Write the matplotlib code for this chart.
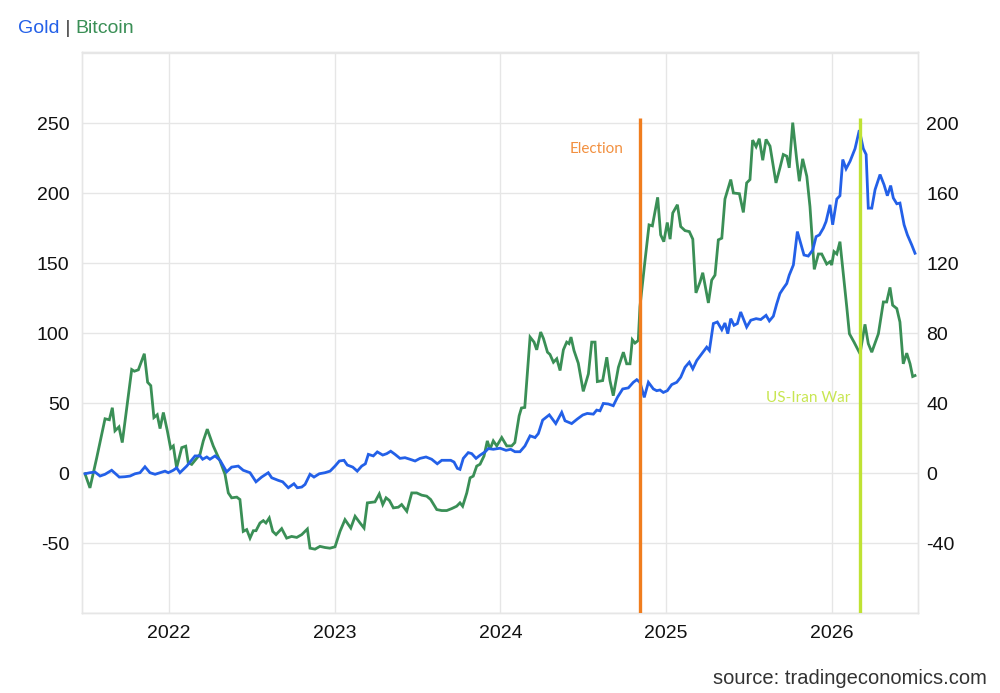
import matplotlib
matplotlib.use("agg")
import matplotlib.pyplot as plt

# weekly-ish points, x in decimal years
btc_t = [2021.493, 2021.523, 2021.564, 2021.614, 2021.640, 2021.658, 2021.674, 2021.698, 2021.718, 2021.775,
         2021.791, 2021.815, 2021.851, 2021.871, 2021.890, 2021.909, 2021.929, 2021.946, 2021.966, 2021.990,
         2022.010, 2022.026, 2022.046, 2022.077, 2022.101, 2022.116, 2022.137, 2022.157, 2022.187, 2022.207,
         2022.231, 2022.267, 2022.308, 2022.338, 2022.358, 2022.378, 2022.409, 2022.428, 2022.448, 2022.469,
         2022.489, 2022.509, 2022.525, 2022.549, 2022.569, 2022.585, 2022.605, 2022.626, 2022.646, 2022.680,
         2022.710, 2022.740, 2022.771, 2022.801, 2022.835, 2022.851, 2022.881, 2022.911, 2022.941, 2022.971,
         2023.002, 2023.032, 2023.062, 2023.097, 2023.123, 2023.153, 2023.177, 2023.197, 2023.243, 2023.269,
         2023.290, 2023.310, 2023.330, 2023.354, 2023.384, 2023.404, 2023.435, 2023.465, 2023.495, 2023.525,
         2023.555, 2023.579, 2023.616, 2023.646, 2023.676, 2023.706, 2023.736, 2023.756, 2023.772, 2023.797,
         2023.817, 2023.836, 2023.857, 2023.877, 2023.901, 2023.921, 2023.937, 2023.957, 2023.978, 2024.008,
         2024.038, 2024.068, 2024.087, 2024.113, 2024.127, 2024.147, 2024.179, 2024.203, 2024.219, 2024.243,
         2024.260, 2024.284, 2024.299, 2024.320, 2024.340, 2024.360, 2024.380, 2024.400, 2024.414, 2024.426,
         2024.444, 2024.470, 2024.500, 2024.531, 2024.551, 2024.571, 2024.585, 2024.617, 2024.642, 2024.661,
         2024.681, 2024.712, 2024.742, 2024.762, 2024.782, 2024.796, 2024.812, 2024.832, 2024.842, 2024.873,
         2024.897, 2024.917, 2024.949, 2024.967, 2024.986, 2025.007, 2025.024, 2025.040, 2025.068, 2025.088,
         2025.114, 2025.140, 2025.161, 2025.180, 2025.205, 2025.221, 2025.255, 2025.275, 2025.295, 2025.315,
         2025.336, 2025.355, 2025.390, 2025.406, 2025.442, 2025.466, 2025.486, 2025.506, 2025.522, 2025.543,
         2025.562, 2025.583, 2025.603, 2025.627, 2025.663, 2025.687, 2025.707, 2025.728, 2025.743, 2025.764,
         2025.788, 2025.804, 2025.824, 2025.849, 2025.868, 2025.894, 2025.919, 2025.939, 2025.969, 2025.989,
         2025.999, 2026.013, 2026.030, 2026.049, 2026.069, 2026.090, 2026.106, 2026.134, 2026.170, 2026.200,
         2026.220, 2026.241, 2026.281, 2026.311, 2026.331, 2026.351, 2026.367, 2026.392, 2026.411, 2026.431,
         2026.452, 2026.472, 2026.488, 2026.502]
btc = [-0.5, -10.6, 11.0, 38.8, 38.1, 46.7, 30.2, 33.0, 21.8, 74.0,
       72.8, 73.8, 85.3, 64.9, 62.5, 39.7, 41.7, 31.8, 43.3, 30.2,
       17.7, 19.4, 3.8, 18.2, 19.2, 7.4, 6.2, 9.1, 13.4, 23.0,
       31.4, 19.4, 8.6, -0.9, -14.2, -17.7, -17.2, -18.9, -41.7, -40.4,
       -46.5, -41.2, -41.2, -35.7, -34.0, -35.7, -32.1, -41.7, -44.0, -39.7,
       -46.5, -45.3, -46.0, -44.0, -40.0, -53.7, -54.4, -52.4, -53.2, -53.7,
       -52.7, -41.7, -33.3, -39.3, -30.9, -35.7, -39.3, -21.3, -20.6, -14.9,
       -22.5, -17.7, -19.6, -24.9, -24.4, -22.5, -27.3, -14.2, -14.2, -15.8,
       -16.5, -18.9, -26.1, -26.8, -26.8, -25.4, -23.7, -21.3, -23.7, -14.2,
       -3.4, -2.2, 5.0, 6.3, 12.2, 23.0, 17.0, 23.0, 19.4, 25.4,
       19.4, 19.4, 21.8, 40.9, 46.5, 46.9, 97.2, 93.6, 88.1, 100.8,
       96.1, 86.4, 84.8, 79.2, 81.7, 73.3, 88.1, 93.6, 92.5, 97.2,
       87.6, 78.5, 58.4, 70.9, 93.6, 93.6, 65.4, 66.1, 82.8, 66.1,
       55.3, 75.6, 86.4, 78.1, 78.1, 95.3, 92.9, 94.8, 118.8, 152.3,
       177.4, 176.7, 197.1, 170.3, 165.4, 179.1, 167.2, 185.9, 191.8, 176.2,
       173.3, 172.6, 167.2, 128.8, 136.7, 143.2, 121.6, 137.9, 141.5, 166.7,
       167.9, 195.9, 209.8, 200.2, 199.7, 186.3, 207.4, 209.8, 238.0, 233.3,
       239.0, 223.6, 238.5, 233.7, 207.4, 218.2, 227.7, 226.5, 218.2, 250.5,
       224.1, 208.6, 224.6, 212.1, 190.6, 145.6, 156.6, 156.6, 149.4, 151.1,
       148.7, 158.3, 156.6, 165.4, 142.7, 118.8, 99.6, 93.6, 85.3, 106.3,
       92.5, 86.4, 99.6, 122.3, 122.3, 132.7, 120.0, 117.6, 108.0, 78.1,
       85.7, 78.1, 69.0, 69.7]

gold_t = [2021.493, 2021.523, 2021.553, 2021.584, 2021.614, 2021.654, 2021.700, 2021.734, 2021.765, 2021.795,
          2021.825, 2021.855, 2021.885, 2021.916, 2021.946, 2021.976, 2021.996, 2022.026, 2022.046, 2022.066,
          2022.107, 2022.157, 2022.187, 2022.203, 2022.228, 2022.247, 2022.278, 2022.308, 2022.348, 2022.378,
          2022.418, 2022.448, 2022.489, 2022.525, 2022.559, 2022.599, 2022.620, 2022.660, 2022.686, 2022.720,
          2022.754, 2022.774, 2022.801, 2022.821, 2022.851, 2022.875, 2022.907, 2022.941, 2022.972, 2023.002,
          2023.028, 2023.056, 2023.076, 2023.109, 2023.136, 2023.163, 2023.185, 2023.203, 2023.233, 2023.257,
          2023.290, 2023.314, 2023.338, 2023.364, 2023.394, 2023.424, 2023.454, 2023.485, 2023.515, 2023.551,
          2023.585, 2023.619, 2023.646, 2023.676, 2023.700, 2023.720, 2023.740, 2023.756, 2023.776, 2023.806,
          2023.827, 2023.853, 2023.877, 2023.907, 2023.927, 2023.957, 2023.998, 2024.034, 2024.062, 2024.088,
          2024.118, 2024.148, 2024.179, 2024.209, 2024.229, 2024.255, 2024.295, 2024.334, 2024.370, 2024.390,
          2024.430, 2024.464, 2024.497, 2024.524, 2024.561, 2024.581, 2024.601, 2024.621, 2024.651, 2024.681,
          2024.706, 2024.738, 2024.772, 2024.802, 2024.823, 2024.842, 2024.868, 2024.893, 2024.923, 2024.943,
          2024.963, 2024.983, 2025.007, 2025.034, 2025.064, 2025.088, 2025.114, 2025.140, 2025.161, 2025.185,
          2025.215, 2025.245, 2025.261, 2025.285, 2025.309, 2025.336, 2025.355, 2025.372, 2025.390, 2025.410,
          2025.430, 2025.450, 2025.486, 2025.511, 2025.543, 2025.571, 2025.603, 2025.623, 2025.647, 2025.667,
          2025.687, 2025.707, 2025.728, 2025.743, 2025.768, 2025.792, 2025.812, 2025.832, 2025.858, 2025.885,
          2025.905, 2025.925, 2025.949, 2025.965, 2025.989, 2026.005, 2026.030, 2026.049, 2026.066, 2026.086,
          2026.110, 2026.140, 2026.166, 2026.190, 2026.207, 2026.220, 2026.241, 2026.261, 2026.291, 2026.315,
          2026.335, 2026.355, 2026.371, 2026.392, 2026.411, 2026.436, 2026.456, 2026.482, 2026.502]
gold = [-0.4, 0.2, 0.6, -1.7, -0.7, 1.6, -2.3, -2.1, -1.7, -0.4,
        0.2, 3.6, 0.2, -0.7, 0.2, 1.1, 0.2, 1.6, 3.0, 0.2,
        4.0, 9.8, 9.8, 7.9, 9.2, 7.9, 9.8, 7.3, 0.7, 3.4,
        4.0, 1.6, 0.2, -5.0, -2.3, 0.2, -2.7, -4.2, -5.0, -8.4,
        -6.1, -8.4, -8.0, -6.5, -0.7, -2.3, -0.4, 0.2, 1.1, 4.0,
        6.9, 7.3, 4.6, 3.4, 1.1, 4.0, 5.3, 10.7, 9.8, 12.1,
        10.3, 11.1, 12.5, 10.7, 8.4, 8.8, 7.9, 6.9, 8.4, 9.2,
        7.9, 5.3, 7.3, 7.3, 7.3, 6.3, 2.7, 2.1, 8.4, 11.7,
        11.1, 8.4, 10.2, 12.1, 14.0, 13.6, 14.2, 13.0, 13.6, 12.2,
        12.2, 15.5, 21.3, 20.3, 22.6, 30.3, 33.3, 28.3, 34.7, 29.9,
        28.3, 30.9, 33.2, 34.1, 33.7, 36.0, 35.6, 39.8, 39.5, 38.5,
        43.3, 48.1, 48.7, 51.9, 53.4, 51.9, 43.3, 51.9, 48.1, 47.1,
        47.5, 46.1, 47.1, 50.6, 51.9, 54.8, 60.5, 63.4, 59.6, 64.4,
        68.2, 72.0, 70.1, 85.5, 86.4, 82.0, 85.8, 79.7, 88.3, 84.5,
        85.5, 92.1, 83.5, 87.4, 88.3, 87.8, 90.2, 87.0, 89.7, 96.6,
        102.7, 105.6, 108.4, 113.2, 119.0, 138.1, 131.4, 124.7, 124.1, 127.6,
        135.2, 136.2, 140.1, 143.8, 153.4, 142.0, 156.7, 158.6, 179.3, 174.0,
        178.3, 185.5, 196.1, 185.5, 182.2, 151.5, 151.5, 162.1, 170.7, 164.9,
        158.6, 164.4, 157.3, 154.0, 154.4, 142.0, 136.2, 130.5, 125.7]

years = [2022, 2023, 2024, 2025, 2026]
left_ticks = [-100, -50, 0, 50, 100, 150, 200, 250, 300]
right_ticks = [-80, -40, 0, 40, 80, 120, 160, 200, 240]
events = [("Election", 2024.845, "#f07d1e"), ("US-Iran War", 2026.170, "#bfe234")]

BLUE = "#2360e8"
GREEN = "#3a8f56"
GRID = "#e6e6e6"

plt.rcParams['font.family'] = ['Liberation Sans', 'DejaVu Sans']

fig = plt.figure(figsize=(10, 6.93), dpi=100)
ax = fig.add_axes([0.082, 0.1155, 0.836, 0.8095])
ax2 = ax.twinx()

ax.plot(btc_t, btc, color=GREEN, lw=2.0, solid_joinstyle='miter')
ax2.plot(gold_t, gold, color=BLUE, lw=2.0, solid_joinstyle='miter')

ax.set_xlim(2021.475, 2026.52)
ax.set_ylim(-100, 301)
ax2.set_ylim(-80, 240.8)

ax.set_yticks(left_ticks)
ax.set_yticklabels(['' if v in (-100, 300) else str(v) for v in left_ticks])
ax2.set_yticks(right_ticks)
ax2.set_yticklabels(['' if v in (-80, 240) else str(v) for v in right_ticks])
ax.set_xticks(years)
ax.set_xticklabels([str(y) for y in years])

ax.grid(True, color=GRID, lw=1.0)
ax.set_axisbelow(True)
ax.tick_params(axis='both', length=0, labelsize=14, colors='#111111')
ax.tick_params(axis='y', pad=9)
ax.tick_params(axis='x', pad=9)
ax2.tick_params(axis='y', length=0, labelsize=14, colors='#111111', pad=6)
for a in (ax, ax2):
    for s in a.spines.values():
        s.set_color(GRID)
        s.set_linewidth(1.0)

# event markers
ev_label = {"Election": (0.10, 232), "US-Iran War": (0.06, 54)}
for name, t, col in events:
    ax2.plot([t, t], [-80, 0.8 * 253.5], color=col, lw=2.4, zorder=5,
             solid_capstyle='butt')
    dx, ly = ev_label[name]
    ax.text(t - dx, ly, name, color=col, fontsize=11, family=['Lato', 'DejaVu Sans'],
            ha='right', va='center', alpha=0.85)

# header: Gold | Bitcoin
fig.canvas.draw()
r = fig.canvas.get_renderer()
x0 = 18 / 1000.0
yb = 1 - 33 / 693.0
for txt, col in [("Gold", BLUE), (" | ", "#444444"), ("Bitcoin", GREEN)]:
    t = fig.text(x0, yb, txt, color=col, fontsize=14, va='baseline', ha='left')
    bb = t.get_window_extent(renderer=r)
    x0 += bb.width / fig.bbox.width

fig.text(0.987, 1 - 684 / 693.0, "source: tradingeconomics.com", fontsize=14.5,
         color='#333333', ha='right', va='baseline')

fig.savefig("out.png", dpi=100)
